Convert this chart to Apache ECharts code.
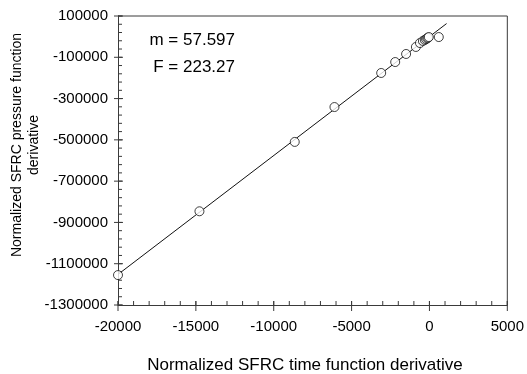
<!DOCTYPE html>
<html>
<head>
<meta charset="utf-8">
<script src="https://cdn.jsdelivr.net/npm/echarts@6/dist/echarts.min.js"></script>
<style>
  html, body { margin: 0; padding: 0; background: #fff; }
  #chart { width: 527px; height: 374px; }
</style>
</head>
<body>
<div id="chart"></div>
<script>
// Observed derivative pairs (time-function derivative, pressure-function derivative)
const timeDeriv = [-20000, -14770, -8650, -6100, -3100, -2200, -1500, -870, -610, -420, -300, -220, -150, -90, -40, 600];
const pressureDeriv = [-1155000, -846000, -510000, -341000, -176000, -123000, -84000, -50000, -31000, -21000, -16000, -12000, -8000, -5000, -2000, -2000];

// Regression line: slope and F statistic as printed on the plot
const slope = 57.597;
const fStat = 223.27;
const intercept = 0;
const fitRange = [-20000, 1100];

// Axis ranges and major tick values
const xTicks = [-20000, -15000, -10000, -5000, 0, 5000];
const yTicks = [-1300000, -1100000, -900000, -700000, -500000, -300000, -100000, 100000];
const minorPerMajor = 5;

const FONT = 'Liberation Sans, Arial, sans-serif';
const AXIS_COLOR = '#3a3a3a';

const xMin = xTicks[0], xMax = xTicks[xTicks.length - 1];
const yMin = yTicks[0], yMax = yTicks[yTicks.length - 1];
const xMajorStep = xTicks[1] - xTicks[0];
const yMajorStep = yTicks[1] - yTicks[0];
const points = timeDeriv.map((x, i) => [x, pressureDeriv[i]]);
const fitLine = fitRange.map(x => [x, slope * x + intercept]);

function minorValues(min, max, step) {
  const out = [];
  const n = Math.round((max - min) / step);
  for (let k = 0; k <= n; k++) out.push(min + k * step);
  return out;
}
const xMinor = minorValues(xMin, xMax, xMajorStep / minorPerMajor);
const yMinor = minorValues(yMin, yMax, yMajorStep / minorPerMajor);

const chart = echarts.init(document.getElementById('chart'), null, { renderer: 'canvas' });

function plain(v) { return String(v); }

// tick marks (major ticks cross the axis line, minor ticks point inward)
// and the top and right edges of the plot frame
const KIND = { xMajor: 0, yMajor: 1, frame: 2, xMinor: 3, yMinor: 4 };
function frameAndTicks(params, api) {
  const v = api.value(0);
  const kind = api.value(1);
  const style = { stroke: AXIS_COLOR, lineWidth: 1, fill: 'none' };
  let p;
  switch (kind) {
    case KIND.xMajor:
      p = api.coord([v, yMin]);
      return { type: 'line', shape: { x1: p[0], y1: p[1] - 4, x2: p[0], y2: p[1] + 6 }, style };
    case KIND.yMajor:
      p = api.coord([xMin, v]);
      return { type: 'line', shape: { x1: p[0] - 4, y1: p[1], x2: p[0] + 5, y2: p[1] }, style };
    case KIND.xMinor:
      p = api.coord([v, yMin]);
      return { type: 'line', shape: { x1: p[0], y1: p[1] - 4, x2: p[0], y2: p[1] }, style };
    case KIND.yMinor:
      p = api.coord([xMin, v]);
      return { type: 'line', shape: { x1: p[0], y1: p[1], x2: p[0] + 4, y2: p[1] }, style };
    default: {
      const a = api.coord([xMin, yMax]);
      const b = api.coord([xMax, yMax]);
      const c = api.coord([xMax, yMin]);
      return { type: 'polyline', shape: { points: [a, b, c] }, style };
    }
  }
}
const frameItems = []
  .concat(xMinor.map(v => [v, KIND.xMinor]))
  .concat(yMinor.map(v => [v, KIND.yMinor]))
  .concat(xTicks.map(v => [v, KIND.xMajor]))
  .concat(yTicks.map(v => [v, KIND.yMajor]))
  .concat([[0, KIND.frame]]);

chart.setOption({
  animation: false,
  backgroundColor: '#fff',
  grid: { left: 118, top: 16, right: 17, bottom: 69, show: false },
  xAxis: {
    type: 'value', min: xMin, max: xMax, interval: xMajorStep,
    axisLine: { show: true, onZero: false, lineStyle: { color: AXIS_COLOR, width: 1 } },
    axisTick: { show: false },
    minorTick: { show: false },
    axisLabel: { color: '#000', fontFamily: FONT, fontSize: 15, margin: 14, formatter: plain },
    splitLine: { show: false }, minorSplitLine: { show: false }
  },
  yAxis: {
    type: 'value', min: yMin, max: yMax, interval: yMajorStep,
    axisLine: { show: true, onZero: false, lineStyle: { color: AXIS_COLOR, width: 1 } },
    axisTick: { show: false },
    minorTick: { show: false },
    axisLabel: { color: '#000', fontFamily: FONT, fontSize: 15, margin: 10, formatter: plain },
    splitLine: { show: false }, minorSplitLine: { show: false }
  },
  graphic: [
    {
      type: 'text', x: 305, y: 365,
      style: {
        text: 'Normalized SFRC time function derivative', fontFamily: FONT, fontSize: 17, fill: '#000',
        align: 'center', verticalAlign: 'middle'
      }
    },
    {
      type: 'text', x: 26, y: 145, rotation: Math.PI / 2,
      style: {
        text: 'Normalized SFRC pressure function\nderivative',
        fontFamily: FONT, fontSize: 14, fill: '#000',
        align: 'center', verticalAlign: 'middle', lineHeight: 17
      }
    },
    {
      type: 'text', x: 235, y: 40,
      style: { text: 'm = ' + slope.toFixed(3), fontFamily: FONT, fontSize: 17, fill: '#000', align: 'right', verticalAlign: 'middle' }
    },
    {
      type: 'text', x: 235, y: 67,
      style: { text: 'F = ' + fStat.toFixed(2), fontFamily: FONT, fontSize: 17, fill: '#000', align: 'right', verticalAlign: 'middle' }
    }
  ],
  series: [
    {
      type: 'custom', data: frameItems, renderItem: frameAndTicks, clip: false, silent: true, z: 1,
      encode: { x: -1, y: -1 }
    },
    {
      type: 'line', data: fitLine, showSymbol: false, symbol: 'none',
      lineStyle: { color: '#111', width: 1 }, z: 2, silent: true
    },
    {
      type: 'scatter', data: points, symbol: 'circle', symbolSize: 9,
      itemStyle: { color: '#fff', borderColor: '#111', borderWidth: 1 }, z: 3
    }
  ]
});
</script>
</body>
</html>
